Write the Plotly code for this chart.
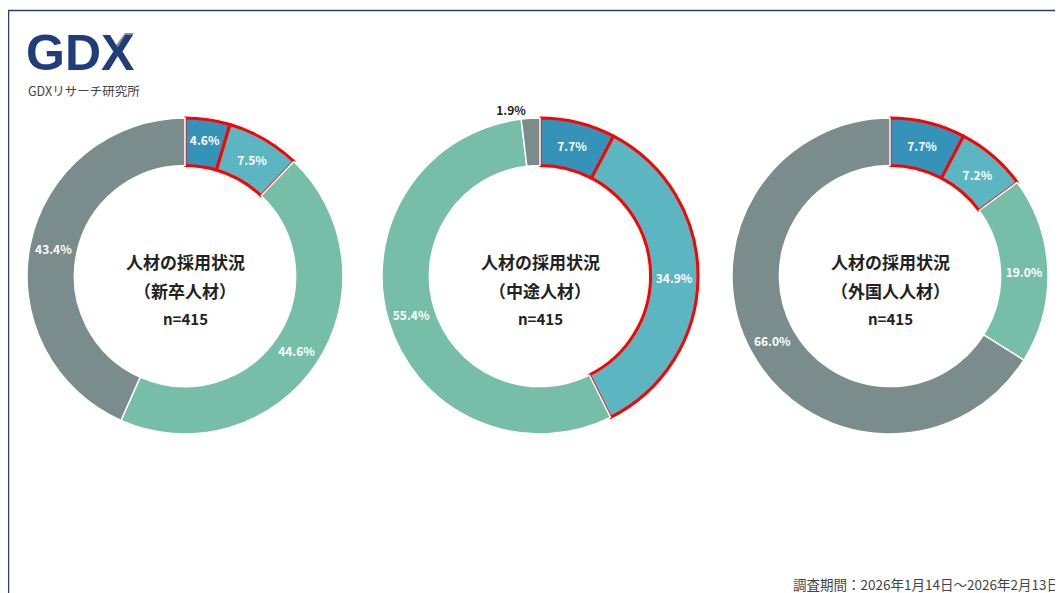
import plotly.graph_objects as go

# ---- data ----
categories = ["積極的に採用", "やや採用", "採用なし（検討）", "採用していない"]
shinsotsu = [4.6, 7.5, 44.6, 43.4]
chuto = [7.7, 34.9, 55.4, 1.9]
gaikoku = [7.7, 7.2, 19.0, 66.0]
panel_titles = ["（新卒人材）", "（中途人材）", "（外国人人材）"]
n_label = "n=415"
footer = "調査期間：2026年1月14日～2026年2月13日"

colors = ["#3592B8", "#5BB6C1", "#76BEA8", "#7A8C8C"]
line_colors = ["#FF0000", "#FF0000", "#FFFFFF", "#FFFFFF"]
line_widths = [3, 3, 1.5, 1.5]

# page body has an 8px margin; figure drawn at (8, 8)
OX, OY = 8, 8
W, H = 1063 - OX, 593 - OY


def px(x):
    return (x - OX) / W


def py(y):
    return 1 - (y - OY) / H


centers_x = [185, 540, 890]
cy = 276
R = 158

fig = go.Figure()
series = [shinsotsu, chuto, gaikoku]
font_family = "Noto Sans CJK JP"
for i, vals in enumerate(series):
    cx = centers_x[i]
    texts = [f"<b>{v:.1f}%</b>" for v in vals]
    positions = ["outside" if v < 3 else "inside" for v in vals]
    tcolors = ["#222222" if v < 3 else "#FFFFFF" for v in vals]
    fig.add_trace(go.Pie(
        labels=categories, values=vals, text=texts,
        textinfo="text", textposition=positions,
        insidetextorientation="horizontal",
        textfont=dict(size=12, color=tcolors, family=font_family),
        outsidetextfont=dict(size=12, color="#222222", family=font_family),
        hole=0.70, sort=False, direction="clockwise", rotation=0,
        marker=dict(colors=colors, line=dict(color=line_colors, width=line_widths)),
        domain=dict(x=[px(cx - R), px(cx + R)], y=[py(cy + R), py(cy - R)]),
        showlegend=False, hoverinfo="label+percent",
    ))
    fig.add_annotation(x=px(cx), y=py(261), xref="paper", yref="paper",
                       xanchor="center", yanchor="middle",
                       text="<b>人材の採用状況</b>", showarrow=False,
                       font=dict(size=17, color="#222222", family=font_family))
    fig.add_annotation(x=px(cx), y=py(290), xref="paper", yref="paper",
                       xanchor="center", yanchor="middle",
                       text=f"<b>{panel_titles[i]}</b>", showarrow=False,
                       font=dict(size=17, color="#222222", family=font_family))
    fig.add_annotation(x=px(cx), y=py(318), xref="paper", yref="paper",
                       xanchor="center", yanchor="middle",
                       text=f"<b>{n_label}</b>", showarrow=False,
                       font=dict(size=15, color="#222222", family=font_family))

# logo
fig.add_annotation(x=px(24), y=py(53), xref="paper", yref="paper", xanchor="left", yanchor="middle",
                   text="<b>GDX</b>", showarrow=False,
                   font=dict(size=50, color="#1F3D7A", family="Liberation Sans"))
fig.add_shape(type="path", xref="paper", yref="paper",
              path=f"M {px(114)} {py(48)} L {px(125)} {py(33)} L {px(134)} {py(33)} L {px(123)} {py(48)} Z",
              fillcolor="#8C8C8C", line=dict(width=0))
fig.add_annotation(x=px(26), y=py(91), xref="paper", yref="paper", xanchor="left", yanchor="middle",
                   text="GDXリサーチ研究所", showarrow=False,
                   font=dict(size=12.5, color="#444444", family=font_family))
# footer
fig.add_annotation(x=px(1062), y=py(584), xref="paper", yref="paper", xanchor="right", yanchor="middle",
                   text=footer, showarrow=False,
                   font=dict(size=13.5, color="#444444", family=font_family))

# frame
fig.add_shape(type="rect", xref="paper", yref="paper",
              x0=px(8.5), x1=1.02, y0=-0.02, y1=py(10.5),
              line=dict(color="#2B3F6B", width=1.5))

fig.update_layout(width=W, height=H, margin=dict(l=0, r=0, t=0, b=0),
                  paper_bgcolor="white", plot_bgcolor="white")
fig.write_html("out.html")
